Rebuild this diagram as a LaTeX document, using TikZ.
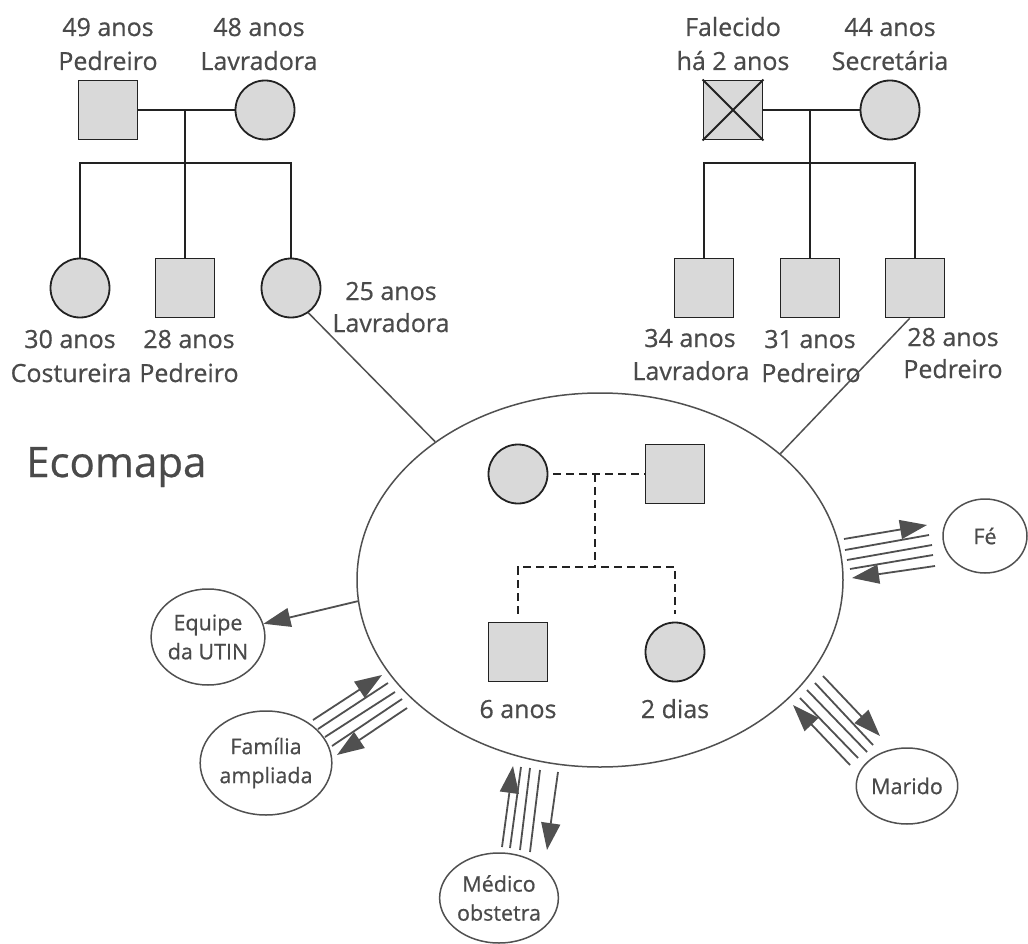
\documentclass[tikz,border=0pt]{standalone}
\usepackage{fontspec}
\setmainfont{Open Sans}[FakeBold=0.6]
\usetikzlibrary{shapes.geometric,arrows.meta}
\definecolor{txt}{HTML}{4A4A4A}
\definecolor{shade}{HTML}{D9D9D9}
\definecolor{ink}{HTML}{222222}
\definecolor{conn}{HTML}{505050}
\begin{document}
\begin{tikzpicture}[x=1pt,y=-1pt,
  sq/.style={rectangle,draw=ink,line width=1.8pt,fill=shade,minimum size=59pt,inner sep=0pt},
  ci/.style={circle,draw=ink,line width=1.8pt,fill=shade,minimum size=59pt,inner sep=0pt},
  gl/.style={draw=ink,line width=1.8pt},
  dl/.style={draw=ink,line width=1.8pt,dash pattern=on 8pt off 5pt},
  lbl/.style={text=txt,font=\fontsize{25}{30}\selectfont,anchor=base,inner sep=0pt},
  big/.style={text=txt,font=\fontsize{42}{50}\selectfont,anchor=base west,inner sep=0pt},
  ell/.style={ellipse,draw=conn,line width=1.5pt,inner sep=0pt},
  sat/.style={ellipse,draw=conn,line width=1.5pt,text=txt,font=\fontsize{21.5}{29}\selectfont,align=center,inner sep=0pt},
  cl/.style={draw=conn,line width=1.5pt},
  bl/.style={draw=conn,line width=1.8pt},
  arr/.style={draw=conn,line width=1.8pt,-{Triangle[length=27pt,width=19pt]},fill=conn}
]
\fill[white] (0,0) rectangle (1028,944);
\useasboundingbox (0,0) rectangle (1028,944);

% ---------- left family ----------
\node[sq] (lf) at (108,110) {};
\node[ci] (lm) at (265,110) {};
\coordinate (lj) at (185,110);
\coordinate (lk) at (185,163);
\draw[gl] (lf.east) -- (lm.west);
\draw[gl] (lj) -- (lk);
\node[ci] (c1) at (80,288) {};
\node[sq] (c2) at (185,288) {};
\node[ci] (c3) at (291,288) {};
\draw[gl] (c1.north) -- (c1.north |- lk) -- (c3.north |- lk) -- (c3.north);
\draw[gl] (lk) -- (c2.north);

\node[lbl] (t1) at (108,36) {49 anos};
\node[lbl] (t2) at (108,70) {Pedreiro};
\node[lbl] (t3) at (259,36) {48 anos};
\node[lbl] (t4) at (259,70) {Lavradora};
\node[lbl] (t5) at (70,348) {30 anos};
\node[lbl] (t6) at (71,382) {Costureira};
\node[lbl] (t7) at (189,348) {28 anos};
\node[lbl] (t8) at (189,382) {Pedreiro};
\node[lbl] (t9) at (391,300) {25 anos};
\node[lbl] (t10) at (391,332) {Lavradora};

% ---------- right family ----------
\node[sq] (rf) at (733,110) {};
\draw[gl] (rf.north west) -- (rf.south east) (rf.north east) -- (rf.south west);
\node[ci] (rm) at (890,110) {};
\coordinate (rj) at (810,110);
\coordinate (rk) at (810,163);
\draw[gl] (rf.east) -- (rm.west);
\draw[gl] (rj) -- (rk);
\node[sq] (s1) at (704,288) {};
\node[sq] (s2) at (810,288) {};
\node[sq] (s3) at (915,288) {};
\draw[gl] (s1.north) -- (s1.north |- rk) -- (s3.north |- rk) -- (s3.north);
\draw[gl] (rk) -- (s2.north);

\node[lbl] (u1) at (733,36) {Falecido};
\node[lbl] (u2) at (733,70) {há 2 anos};
\node[lbl] (u3) at (890,36) {44 anos};
\node[lbl] (u4) at (890,70) {Secretária};
\node[lbl] (u5) at (690,347) {34 anos};
\node[lbl] (u6) at (691,380) {Lavradora};
\node[lbl] (u7) at (810,348) {31 anos};
\node[lbl] (u8) at (811,382) {Pedreiro};
\node[lbl] (u9) at (953,346) {28 anos};
\node[lbl] (u10) at (953,378) {Pedreiro};

% ---------- ecomap ----------
\node[ell,minimum width=486pt,minimum height=374pt] (eco) at (600,580) {};
\draw[cl] (c3.-55) -- (eco.140);
\draw[cl] (s3.-100) -- (eco.35);

\node[big] (title) at (26,477) {Ecomapa};

\node[ci] (im) at (518,474) {};
\node[sq] (ifa) at (675,474) {};
\coordinate (ij) at (595,474);
\coordinate (ik) at (595,567);
\draw[dl,shorten <=5pt] (im.east) -- (ifa.west);
\draw[dl] (ij) -- (ik);
\node[sq] (ison) at (518,652) {};
\node[ci] (idau) at (675,652) {};
\draw[dl,shorten <=8pt,shorten >=8pt] (ison.north) -- (ison.north |- ik) -- (idau.north |- ik) -- (idau.north);
\node[lbl] (v1) at (518,718) {6 anos};
\node[lbl] (v2) at (675,718) {2 dias};

% satellites
\node[sat,minimum width=84pt,minimum height=74pt] (fe) at (985,536) {Fé};
\node[sat,minimum width=106pt,minimum height=96pt] (utin) at (208,637) {Equipe\\da UTIN};
\node[sat,minimum width=108pt,minimum height=104pt] (fam) at (266,763) {Família\\ampliada};
\node[sat,minimum width=112pt,minimum height=90pt] (med) at (499,898) {Médico\\obstetra};
\node[sat,minimum width=96pt,minimum height=76pt] (mar) at (907,786) {Marido};

% UTIN connector
\draw[arr] (eco.185) -- (utin);

% bundles
\foreach \n/\ax/\ay/\bx/\by in {
  f1/844/539/927/525, f2/845/550/929/535, f3/847/560/932/545, f4/850/569/933/555, f5/935/566/852/578,
  a1/313/720/382/675, a2/318/729/388/683, a3/325/737/395/692, a4/332/746/402/699, a5/407/708/337/755,
  m1/502/847/513/766, m2/510/848/521/767, m3/520/850/530/768, m4/530/852/540/770, m5/558/772/547/850,
  r1/850/765/793/705, r2/858/758/800/698, r3/867/752/807/690, r4/873/745/815/683, r5/823/676/880/736}
  {\coordinate (\n a) at (\ax,\ay); \coordinate (\n b) at (\bx,\by);}

\foreach \g in {f,a,m,r}{
  \draw[arr] (\g1a) -- (\g1b);
  \draw[bl] (\g2a) -- (\g2b);
  \draw[bl] (\g3a) -- (\g3b);
  \draw[bl] (\g4a) -- (\g4b);
  \draw[arr] (\g5a) -- (\g5b);
}
\end{tikzpicture}
\end{document}
